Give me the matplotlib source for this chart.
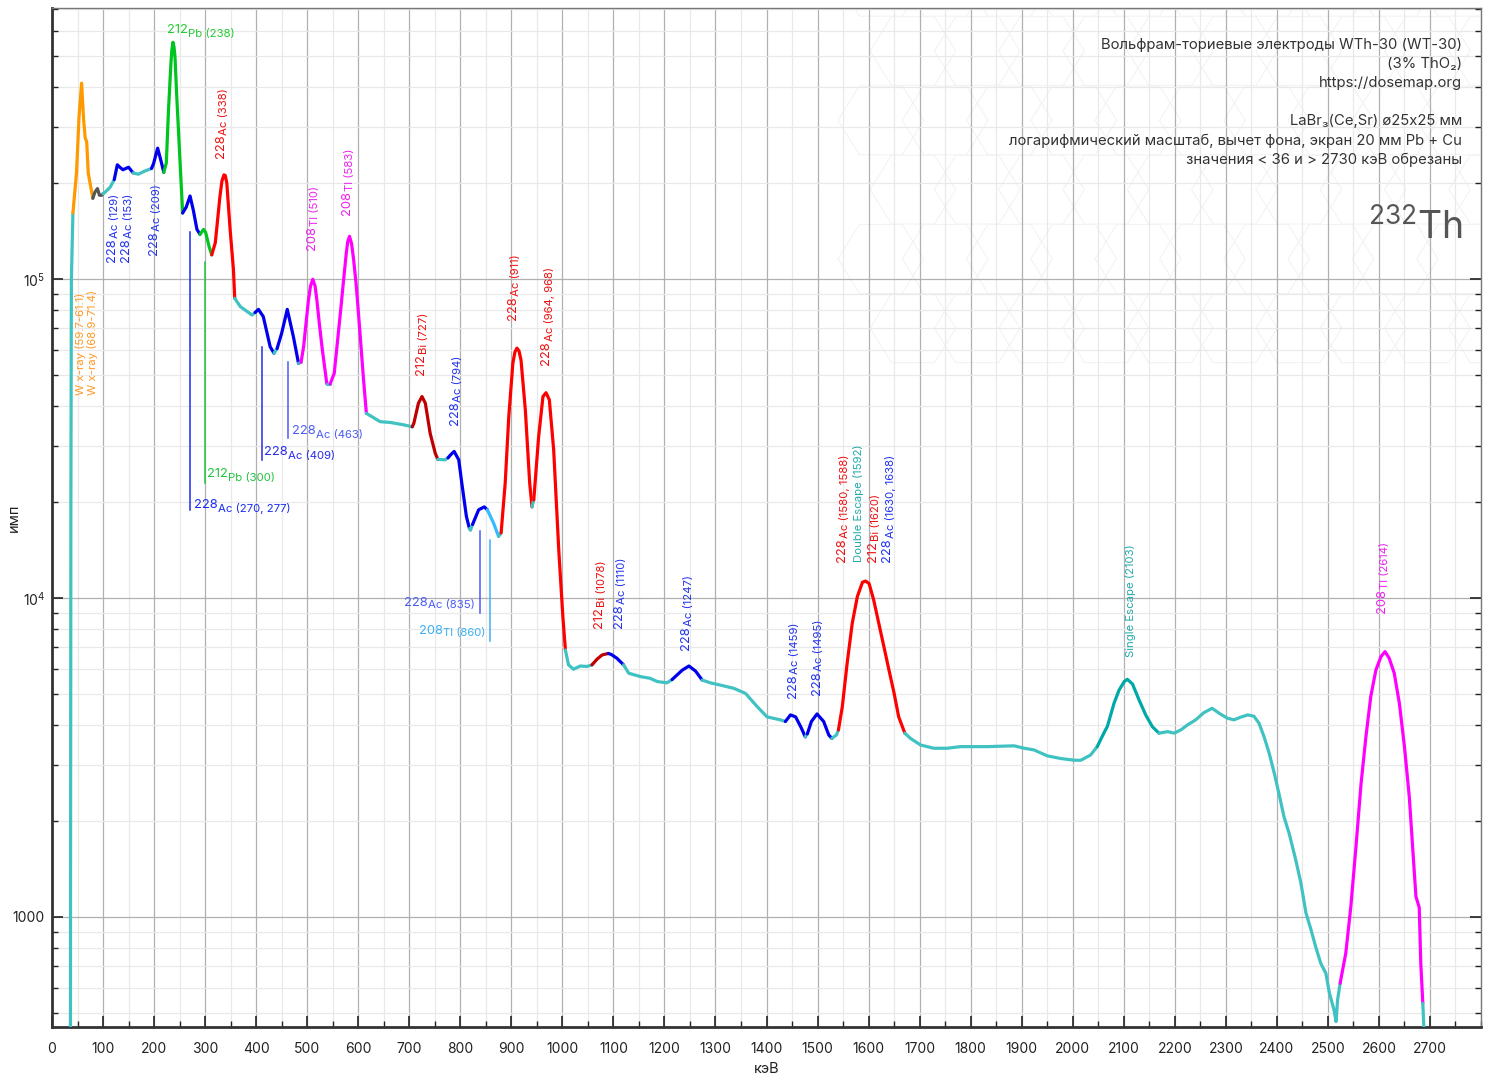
import matplotlib
matplotlib.use("Agg")
import matplotlib.pyplot as plt
import numpy as np
from matplotlib.ticker import MultipleLocator, FixedLocator, FuncFormatter, LogLocator, NullFormatter

plt.rcParams['font.family'] = ['Inter', 'DejaVu Sans']
plt.rcParams['mathtext.fontset'] = 'custom'
plt.rcParams['mathtext.rm'] = 'Inter'
plt.rcParams['mathtext.it'] = 'Inter:italic'
plt.rcParams['mathtext.bf'] = 'Inter:bold'

# ---------------- data ----------------
energy_kev = [
    36, 37, 38, 41, 48, 53, 58, 62, 65, 68, 71, 74.5, 80, 84, 89, 93, 97.5, 100, 104, 114,
    122, 128, 133, 139, 150, 159, 169, 182, 195, 199, 207, 214, 219, 224, 228, 233, 235, 237, 239, 241, 244.5, 251,
    256, 263, 270.5, 277, 284, 290, 297, 301, 308, 313, 320, 329, 333, 337, 339.5, 342.5, 349, 355.5, 358, 369, 392, 398,
    404.5, 414, 427.5, 435, 441, 450, 461, 473, 483, 488, 493, 497.5, 502.5, 506.5, 511, 515.5, 519, 524, 529, 538.5, 545, 553, 565, 571, 576.5, 579.5,
    583, 587, 591, 596, 600.5, 610.5, 616, 627, 643, 663, 689, 706, 709, 718, 725, 731.5, 741, 751, 756, 770, 776, 781,
    788, 797, 803, 812, 818, 820, 824, 836, 847, 853, 865, 875, 880, 888, 895, 903, 907, 911, 915, 919, 927.5, 936,
    940.5, 944, 953.5, 962, 968, 974.5, 983, 993, 1001, 1006, 1012, 1022, 1035, 1048, 1058, 1068, 1078, 1090, 1096, 1107,
    1120, 1130, 1153, 1172, 1186, 1205, 1215, 1235, 1248, 1261, 1274, 1290, 1310, 1336, 1359, 1382, 1401, 1427, 1437, 1447,
    1457, 1467, 1476, 1480, 1488, 1499, 1512, 1522, 1528, 1537, 1541, 1548.5, 1558, 1568, 1578, 1588, 1594, 1601, 1610, 1620,
    1630, 1640, 1650, 1659, 1671, 1682, 1702, 1728, 1754, 1780, 1806, 1833, 1859, 1885, 1905, 1924, 1950, 1976, 2003, 2016,
    2035, 2048, 2061, 2068, 2081, 2091, 2101, 2107, 2117, 2130, 2143, 2156, 2169, 2186, 2199, 2212, 2225, 2241, 2257, 2273,
    2289, 2303, 2316, 2329, 2343, 2355, 2365, 2375, 2385, 2395, 2404, 2414, 2424, 2437, 2447, 2457, 2467, 2476, 2486, 2496,
    2503, 2512, 2516, 2519, 2524, 2535, 2545, 2555, 2565, 2574.5, 2584, 2594, 2604, 2612, 2620, 2630, 2640, 2650, 2659.5, 2666,
    2672.5, 2679, 2682, 2686, 2690,
]
counts = [
    300, 20000, 100000, 161000, 215000, 323000, 411000, 315000, 277000, 269000, 215000, 200000, 179000, 187000, 192000, 183000, 183000, 185000, 187000, 194000,
    205000, 228000, 224000, 220000, 224000, 215000, 213000, 218000, 222000, 230000, 257000, 233000, 216000, 231000, 331000, 475000, 525000, 552000, 535000, 496000, 372000, 231000,
    161000, 168000, 182000, 164000, 143000, 138000, 143000, 140000, 126000, 119000, 130000, 181000, 203000, 212000, 211000, 200000, 143000, 107000, 87000, 81900, 77100, 78500,
    80300, 76200, 61300, 58500, 60500, 67600, 80300, 65900, 54400, 54800, 61300, 72000, 85900, 95000, 99800, 95000, 85900, 72000, 61300, 46900, 46900, 50600, 78000, 98000, 120000, 131000,
    136000, 129000, 115000, 96000, 78000, 48200, 37900, 37000, 35700, 35500, 34900, 34400, 35300, 40800, 42800, 40800, 32800, 28400, 27200, 27100, 27500, 28100,
    28800, 27100, 22900, 18000, 16500, 16300, 17000, 18900, 19300, 18900, 17200, 15600, 16000, 22900, 37000, 54400, 59000, 60700, 59500, 55700, 38800, 22900,
    19300, 20300, 32000, 42800, 44000, 41800, 29100, 14100, 8730, 6870, 6170, 5980, 6120, 6100, 6170, 6430, 6630, 6700, 6650, 6470,
    6170, 5810, 5670, 5600, 5470, 5420, 5550, 5940, 6120, 5900, 5530, 5420, 5330, 5210, 5020, 4560, 4240, 4150, 4100, 4300,
    4240, 3950, 3670, 3750, 4100, 4330, 4100, 3720, 3630, 3720, 3860, 4560, 6240, 8330, 10100, 11200, 11300, 11100, 9860, 8330,
    7040, 5940, 5030, 4240, 3770, 3630, 3460, 3380, 3380, 3420, 3420, 3420, 3430, 3440, 3380, 3340, 3200, 3140, 3100, 3100,
    3220, 3420, 3770, 3960, 4680, 5150, 5470, 5560, 5380, 4790, 4300, 3950, 3770, 3810, 3770, 3860, 4000, 4150, 4370, 4510,
    4330, 4200, 4150, 4230, 4300, 4260, 4050, 3670, 3260, 2820, 2440, 2060, 1830, 1510, 1280, 1030, 911, 807, 716, 666,
    577, 511, 470, 550, 620, 769, 1080, 1660, 2620, 3670, 4910, 5940, 6550, 6790, 6480, 5810, 4680, 3420, 2380, 1660,
    1160, 1070, 716, 536, 380,
]

CY = '#40c2c2'; OR = '#ff9900'; GY = '#555555'; BL = '#0000ee'; GR = '#00c41f'
RD = '#ff0000'; MG = '#ff00ff'; DR = '#c00000'; LB = '#33bbff'; TL = '#00a8a8'

# segment end energy and colour
seg_end = [41, 80, 100, 122, 159, 195, 219, 256, 290, 313, 358, 398, 435, 441, 483, 488, 538.5, 545,
           616, 706, 756, 776, 818, 824, 853, 875, 880, 940.5, 944, 1006, 1058, 1090, 1120, 1215, 1274,
           1437, 1476, 1480, 1528, 1541, 1671, 2048, 2169, 2524, 2686, 2690]
seg_color = [CY, OR, GY, CY, BL, CY, BL, GR, BL, GR, RD, CY, BL, CY, BL, CY, MG, CY,
             MG, CY, DR, CY, BL, CY, BL, LB, CY, RD, CY, RD, CY, DR, BL, CY, BL,
             CY, BL, CY, BL, CY, RD, CY, TL, CY, MG, CY]

LBL_BL = '#2233ee'; LBL_RD = '#ee1111'; LBL_MG = '#ee22ee'; LBL_TL = '#22aaaa'

# vertical peak labels: (number, rest, x energy, y bottom, colour)
vlabels = [
    ('228', 'Ac (129)', 118, 113000, LBL_BL),
    ('228', 'Ac (153)', 145, 113000, LBL_BL),
    ('228', 'Ac (209)', 200, 119000, LBL_BL),
    ('228', 'Ac (338)', 331, 239000, LBL_RD),
    ('208', 'Tl (510)', 510, 123000, LBL_MG),
    ('208', 'Tl (583)', 578, 159000, LBL_MG),
    ('212', 'Bi (727)', 723, 50000, LBL_RD),
    ('228', 'Ac (794)', 790, 34800, LBL_BL),
    ('228', 'Ac (911)', 904, 74400, LBL_RD),
    ('228', 'Ac (964, 968)', 968, 53700, LBL_RD),
    ('212', 'Bi (1078)', 1072, 8060, LBL_RD),
    ('228', 'Ac (1110)', 1111, 8060, LBL_BL),
    ('228', 'Ac (1247)', 1243, 6870, LBL_BL),
    ('228', 'Ac (1459)', 1451, 4860, LBL_BL),
    ('228', 'Ac (1495)', 1498, 4970, LBL_BL),
    ('228', 'Ac (1580, 1588)', 1547, 13000, LBL_RD),
    ('', 'Double Escape (1592)', 1580, 13000, LBL_TL),
    ('212', 'Bi (1620)', 1608, 13000, LBL_RD),
    ('228', 'Ac (1630, 1638)', 1637, 13000, LBL_BL),
    ('', 'Single Escape (2103)', 2114, 6530, LBL_TL),
    ('208', 'Tl (2614)', 2606, 8980, LBL_MG),
]
xray_labels = ['W x-ray (59.7-61.1)', 'W x-ray (68.9-71.4)']
xray_x = [55, 80]
xray_y = 43300

# line markers: (number, rest, energy, y top, y bottom, text energy, text y, ha, colour)
line_labels = [
    ('228', 'Ac (270, 277)', 270.6, 140000, 18900, 278.4, 19600, 'left', '#1a2cf0'),
    ('212', 'Pb (300)', 300, 113000, 22900, 304, 24500, 'left', '#22c43c'),
    ('228', 'Ac (409)', 411.8, 61200, 27100, 415.7, 28700, 'left', '#2a2ae8'),
    ('228', 'Ac (463)', 462.7, 54900, 31800, 470.6, 33400, 'left', '#4a5cf5'),
    ('228', 'Ac (835)', 839, 16200, 8980, 829, 9500, 'right', '#4a5cf5'),
    ('208', 'Tl (860)', 858.8, 15200, 7330, 849, 7760, 'right', '#3ab0f5'),
]

x_ticks = list(range(0, 2800, 100))
y_major = [1000, 10000, 100000]
y_major_labels = ['1000', r'$10^{4}$', r'$10^{5}$']

info_lines = [
    'Вольфрам-ториевые электроды WTh-30 (WT-30)',
    '(3% ThO₂)',
    'https://dosemap.org',
    '',
    'LaBr₃(Ce,Sr) ø25x25 мм',
    'логарифмический масштаб, вычет фона, экран 20 мм Pb + Cu',
    'значения < 36 и > 2730 кэВ обрезаны',
]

NUM_FS = 9.3
REST_FS = 8.2

# ---------------- figure ----------------
W, H = 1491, 1080
fig = plt.figure(figsize=(W / 100, H / 100), dpi=100)
ax = fig.add_axes([52 / W, 1 - 1027 / H, (1481 - 52) / W, (1027 - 8) / H])
ax.set_yscale('log')
ax.set_xlim(0, 2800)
ax.set_ylim(452, 707000)

# faint honeycomb decoration in the top-right corner
hx = np.array([0, 1, 1.5, 1, 0, -0.5, 0])
hy = np.array([0, 0, 0.866, 1.732, 1.732, 0.866, 0])
for i in range(-1, 9):
    for j in range(-1, 5):
        ox = 0.61 + i * 0.045 + (j % 2) * 0.0225
        oy = 0.72 + j * 0.068
        ax.plot(ox + hx * 0.03, oy + hy * 0.039, transform=ax.transAxes, color='#f3f3f3',
                lw=0.8, zorder=0.5, clip_on=True)

E = np.array(energy_kev, dtype=float)
C = np.array(counts, dtype=float)
start = E[0]
for end, col in zip(seg_end, seg_color):
    m = (E >= start) & (E <= end)
    ax.plot(E[m], C[m], color=col, lw=2.3, solid_capstyle='round', solid_joinstyle='round', zorder=3)
    start = end


def vlabel(x, y, num, rest, col):
    if num:
        t1 = ax.text(x, y, num, rotation=90, ha='center', va='bottom', color=col, fontsize=NUM_FS, zorder=4)
        ax.annotate(rest, xy=(0, 1), xycoords=t1, xytext=(2.8, 0), textcoords='offset points',
                    rotation=90, ha='left', va='bottom', color=col, fontsize=REST_FS, zorder=4)
    else:
        ax.text(x, y, rest, rotation=90, ha='center', va='bottom', color=col, fontsize=REST_FS, zorder=4)


def hlabel(x, y, num, rest, col, ha):
    if ha == 'left':
        t1 = ax.text(x, y, num, ha='left', va='center', color=col, fontsize=NUM_FS, zorder=4)
        ax.annotate(rest, xy=(1, 0), xycoords=t1, xytext=(0.3, -2.2), textcoords='offset points',
                    ha='left', va='bottom', color=col, fontsize=REST_FS, zorder=4)
    else:
        t2 = ax.text(x, y, rest, ha='right', va='center', color=col, fontsize=REST_FS, zorder=4)
        ax.annotate(num, xy=(0, 1), xycoords=t2, xytext=(-0.3, 2.2), textcoords='offset points',
                    ha='right', va='top', color=col, fontsize=NUM_FS, zorder=4)


for num, rest, x, y, col in vlabels:
    vlabel(x, y, num, rest, col)

for t, x in zip(xray_labels, xray_x):
    ax.text(x, xray_y, t, rotation=90, ha='center', va='bottom', color='#ff9922', fontsize=8.2, zorder=4)

hlabel(225.5, 605000, '212', 'Pb (238)', '#22cc33', 'left')

for num, rest, e, y0, y1, tx, ty, ha, col in line_labels:
    ax.plot([e, e], [y0, y1], color=col, lw=1.1, zorder=2)
    hlabel(tx, ty, num, rest, col, ha)

# axes styling
ax.xaxis.set_major_locator(FixedLocator(x_ticks))
ax.xaxis.set_minor_locator(MultipleLocator(50))
ax.yaxis.set_major_locator(FixedLocator(y_major))
ax.yaxis.set_major_formatter(FuncFormatter(lambda v, p: y_major_labels[y_major.index(v)] if v in y_major else ''))
ax.yaxis.set_minor_locator(LogLocator(base=10, subs=np.arange(2, 10)))
ax.yaxis.set_minor_formatter(NullFormatter())
ax.grid(which='major', color='#b0b0b0', lw=0.9, zorder=1)
ax.grid(which='minor', color='#e9e9e9', lw=0.9, zorder=0.8)
ax.set_axisbelow(True)
ax.tick_params(which='both', direction='in', left=True, right=True, bottom=True, top=False,
               labelsize=10, colors='#222222')
ax.tick_params(which='major', length=8, width=1.2)
ax.tick_params(which='minor', length=4, width=1)
ax.tick_params(axis='x', which='major', pad=11)
ax.tick_params(axis='y', which='major', pad=5)
for s in ['left', 'bottom']:
    ax.spines[s].set_linewidth(2)
    ax.spines[s].set_color('#333333')
for s in ['top', 'right']:
    ax.spines[s].set_linewidth(1)
    ax.spines[s].set_color('#777777')

ax.set_xlabel('кэВ', fontsize=10.5, color='#222222')
ax.xaxis.set_label_coords(0.5, -(1069 - 1027) / 1019)
ax.set_ylabel('имп', fontsize=10.5, color='#222222')
ax.yaxis.set_label_coords(-(52 - 14) / 1429, 0.5)
ax.xaxis.label.set_va('center')
ax.yaxis.label.set_va('center')

line_y = [45, 64, 83, 102, 121, 141, 160]
for t, yy in zip(info_lines, line_y):
    if t:
        fig.text(1462 / W, 1 - yy / H, t, ha='right', va='center', fontsize=10.7, color='#333333')
fig.text(1463 / W, 1 - 228 / H, r'$^{232}$Th', ha='right', va='center', fontsize=27, color='#555555')

fig.savefig('out.png', dpi=100, facecolor='white')
